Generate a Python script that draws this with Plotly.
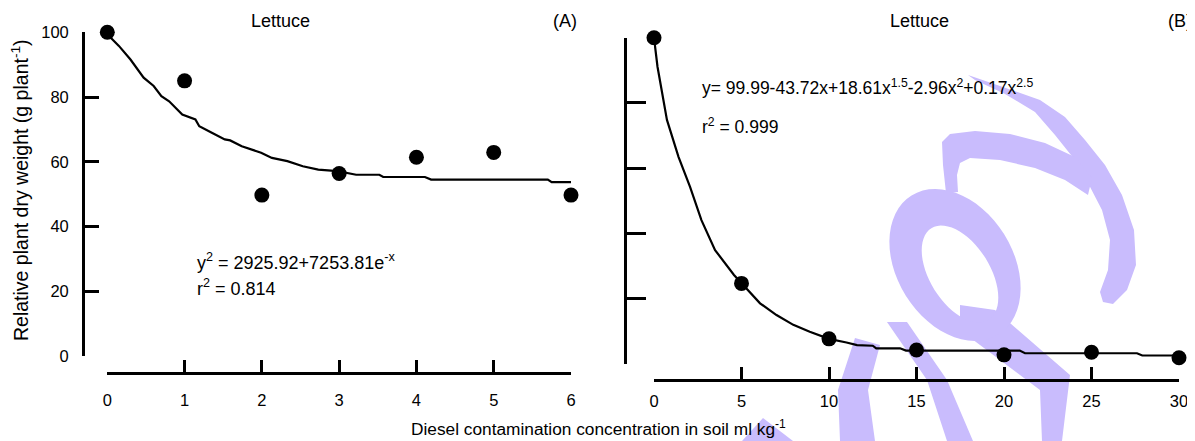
import numpy as np
import plotly.graph_objects as go

# ---------------- data ----------------
# Panel A: concentration 0-6
a_x = [0, 1, 2, 3, 4, 5, 6]
a_y = [100, 85.0, 49.7, 56.4, 61.4, 62.9, 49.7]
a_fit_x = [0.0, 0.15, 0.30, 0.47, 0.60, 0.70, 0.80, 0.97, 1.14, 1.19, 1.34, 1.52, 1.59, 1.74,
           1.99, 2.13, 2.33, 2.53, 2.73, 2.98, 3.22, 3.52, 3.57, 4.11, 4.19, 5.70, 5.75, 6.0]
a_fit_y = [99.4, 95.8, 91.6, 86.0, 83.4, 80.3, 78.7, 74.6, 73.1, 71.0, 69.1, 66.9, 66.6, 64.8,
           62.8, 61.2, 60.2, 58.6, 57.6, 57.1, 56.0, 56.0, 55.3, 55.3, 54.5, 54.5, 53.7, 53.7]

# Panel B: concentration 0-30
b_x = [0, 5, 10, 15, 20, 25, 30]
b_y = [100, 24.7, 7.7, 4.3, 2.8, 3.6, 1.9]
b_fit_x = [0.0, 0.2, 0.74, 1.4, 2.06, 2.71, 3.49, 4.57, 5.02, 6.06, 7.0, 7.96, 8.9, 10.0, 11.0,
           11.6, 12.5, 12.7, 14.06, 14.4, 19.8, 20.9, 21.2, 27.6, 27.9, 30.0]
b_fit_y = [100, 91.1, 74.8, 63.5, 54.3, 44.1, 34.9, 27.3, 24.7, 18.6, 15.0, 12.0, 9.9, 7.7, 6.6,
           5.8, 5.6, 4.8, 4.8, 4.1, 4.1, 4.1, 3.3, 3.3, 2.6, 2.6]

a_ticks = [0, 1, 2, 3, 4, 5, 6]
b_ticks = [0, 5, 10, 15, 20, 25, 30]
y_ticks = [0, 20, 40, 60, 80, 100]

# ---------------- layout helpers ----------------
# the page body has an 8px margin, so the figure is sized to end at the window edge
OFF = 8
W, H = 1195 - OFF, 441 - OFF
FONT = "Liberation Sans, Arial, sans-serif"


def px(x):
    return (x - OFF) / W


def py(y):
    return 1 - (y - OFF) / H


fig = go.Figure()

fig.add_trace(go.Scatter(x=a_fit_x, y=a_fit_y, mode="lines", line=dict(color="black", width=2.2),
                         xaxis="x", yaxis="y", cliponaxis=False, showlegend=False))
fig.add_trace(go.Scatter(x=a_x, y=a_y, mode="markers", marker=dict(color="black", size=15),
                         xaxis="x", yaxis="y", cliponaxis=False, showlegend=False))
fig.add_trace(go.Scatter(x=b_fit_x, y=b_fit_y, mode="lines", line=dict(color="black", width=2.2),
                         xaxis="x2", yaxis="y2", cliponaxis=False, showlegend=False))
fig.add_trace(go.Scatter(x=b_x, y=b_y, mode="markers", marker=dict(color="black", size=15),
                         xaxis="x2", yaxis="y2", cliponaxis=False, showlegend=False))

axis_common = dict(showgrid=False, zeroline=False, showline=True, linecolor="black", linewidth=2.8,
                   ticks="inside", tickwidth=2.8, tickcolor="black", automargin=False,
                   tickfont=dict(family=FONT, size=16.5, color="black"), anchor="free")

fig.update_layout(
    width=W, height=H,
    margin=dict(l=0, r=0, t=0, b=0, autoexpand=False),
    paper_bgcolor="white", plot_bgcolor="rgba(0,0,0,0)",
    font=dict(family=FONT, size=17, color="black"),
    xaxis=dict(axis_common, domain=[px(107.3), px(571)], range=[0, 6], tickvals=a_ticks,
               position=py(372.5), ticklen=12, ticklabelstandoff=12),
    yaxis=dict(axis_common, domain=[py(356), py(32.3)], range=[0, 100], tickvals=y_ticks,
               position=px(83), ticklen=14, ticklabelstandoff=10),
    xaxis2=dict(axis_common, domain=[px(654), px(1179)], range=[0, 30], tickvals=b_ticks,
                position=py(380), ticklen=12, ticklabelstandoff=5),
    yaxis2=dict(axis_common, domain=[py(364), py(37.7)], range=[0, 100], tickvals=y_ticks,
                position=px(625), ticklen=19, showticklabels=False),
)


def ann(text, x, y, xanchor="center", size=18, angle=0):
    fig.add_annotation(text=text, x=px(x), y=py(y), xref="paper", yref="paper",
                       xanchor=xanchor, yanchor="middle", showarrow=False, textangle=angle,
                       font=dict(family=FONT, size=size, color="black"))


ann("Lettuce", 280, 21)
ann("(A)", 565, 21)
ann("Lettuce", 919, 21)
ann("(B)", 1180, 21)
ann("Relative plant dry weight (g plant<sup>-1</sup>)", 20, 190, angle=-90, size=19.5)
ann("Diesel contamination concentration in soil ml kg<sup>-1</sup>", 598, 428, size=17.3)
ann("y<sup>2</sup> = 2925.92+7253.81e<sup>-x</sup>", 195, 261, xanchor="left")
ann("r<sup>2</sup> = 0.814", 195, 287, xanchor="left")
ann("y= 99.99-43.72x+18.61x<sup>1.5</sup>-2.96x<sup>2</sup>+0.17x<sup>2.5</sup>", 700, 87,
    xanchor="left", size=17.5)
ann("r<sup>2</sup> = 0.999", 700, 126, xanchor="left", size=17.5)

# ---------------- watermark (decorative) ----------------
WM = "#c9bcfd"


def poly(points):
    return "M " + " L ".join(f"{px(x):.5f},{py(y):.5f}" for x, y in points) + " Z"


def ellipse(cx, cy, a, b, ang, n=60, reverse=False):
    t = np.linspace(0, 2 * np.pi, n, endpoint=False)
    if reverse:
        t = t[::-1]
    ca, sa = np.cos(np.radians(ang)), np.sin(np.radians(ang))
    pts = [(cx + a * np.cos(tt) * ca - b * np.sin(tt) * sa,
            cy + a * np.cos(tt) * sa + b * np.sin(tt) * ca) for tt in t]
    return poly(pts)


shapes_pts = [
    # crescent (top right)
    [(968, 75), (1000, 86), (1040, 100), (1065, 117), (1085, 140), (1105, 165), (1122, 195),
     (1134, 230), (1136, 265), (1127, 290), (1113, 304), (1103, 302), (1100, 292), (1108, 270),
     (1110, 240), (1102, 210), (1088, 183), (1075, 160), (1055, 135), (1035, 112), (1005, 94), (975, 80)],
    # hook
    [(946, 193), (943, 165), (942, 142), (950, 134), (975, 131), (1010, 134), (1045, 143),
     (1075, 157), (1092, 178), (1088, 195), (1065, 180), (1035, 168), (1000, 160), (970, 158),
     (960, 163), (957, 175), (958, 192)],
    # lower-left arc
    [(855, 338), (880, 345), (868, 390), (875, 441), (840, 441), (838, 390)],
    # diagonal from ring bottom-left
    [(887, 322), (907, 322), (947, 380), (973, 441), (947, 441), (927, 380)],
    # diagonal from ring bottom-right
    [(960, 305), (995, 310), (1070, 375), (1062, 441), (1042, 441), (1040, 390), (960, 330)],
    # triangle near the axis title
    [(742, 441), (763, 418), (793, 441)],
]

shapes = []
for pts in shapes_pts:
    shapes.append(dict(type="path", path=poly(pts), xref="paper", yref="paper",
                       fillcolor=WM, line=dict(width=0), layer="below"))
ring = ellipse(955, 265, 82, 58, 58) + " " + ellipse(960, 274, 54, 30, 58, reverse=True)
shapes.append(dict(type="path", path=ring, xref="paper", yref="paper", fillcolor=WM,
                   line=dict(width=0), layer="below", fillrule="evenodd"))
fig.update_layout(shapes=shapes)

fig.write_html("out.html")
